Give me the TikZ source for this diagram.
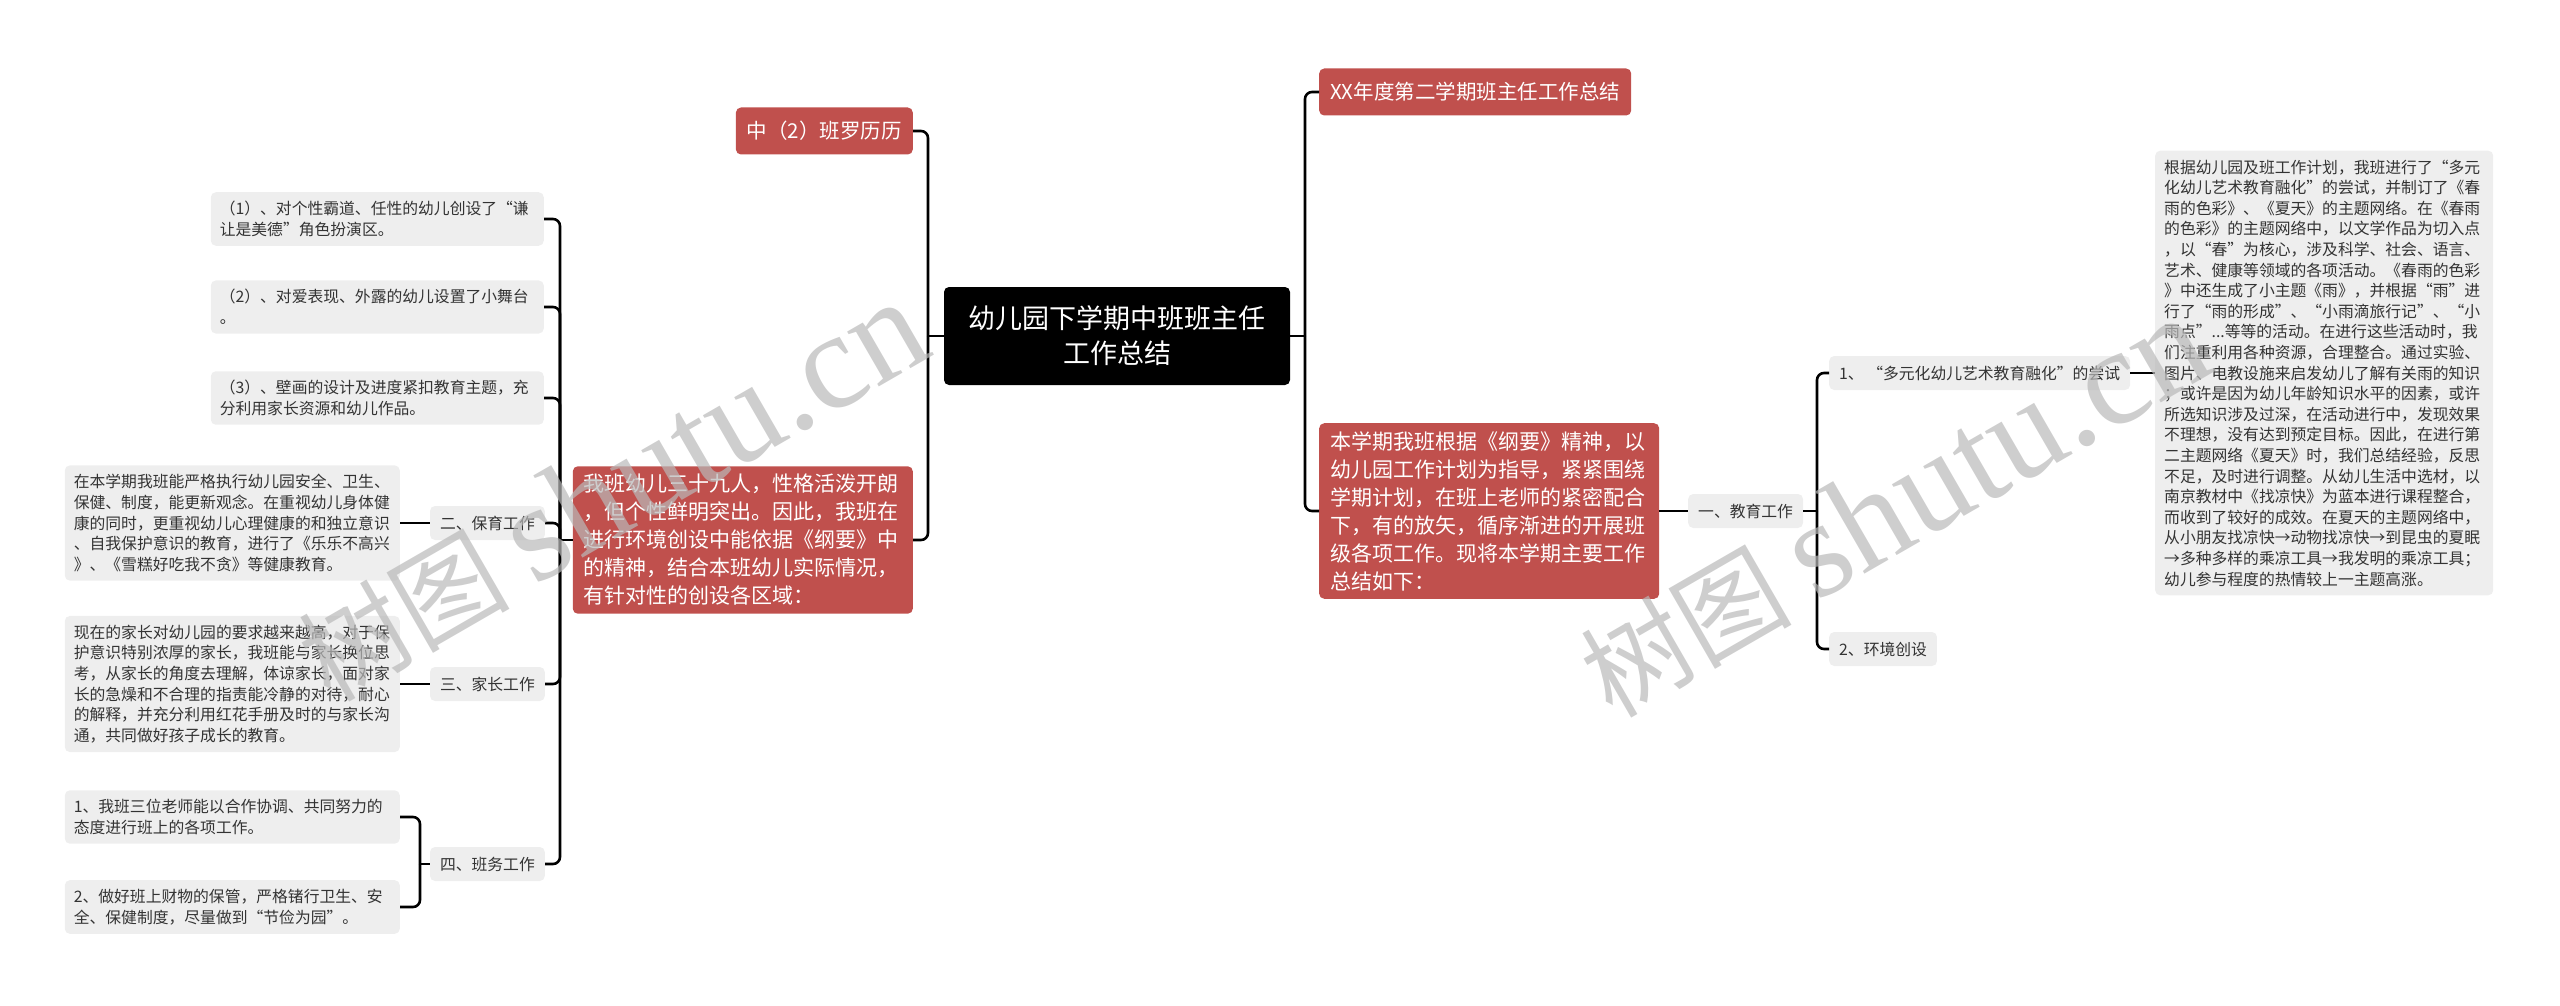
\documentclass[tikz,border=0pt]{standalone}
\usepackage{fontspec}
\setmainfont{Noto Sans CJK SC}
\newfontfamily\wmlat{Liberation Serif}
\newfontfamily\wmcjk{Noto Sans CJK SC}
\definecolor{boxred}{RGB}{192,80,77}
\definecolor{boxgray}{RGB}{238,238,238}
\definecolor{txtgray}{RGB}{51,51,51}
\definecolor{wmgray}{RGB}{185,185,185}
\tikzset{
  conn/.style={line width=2.6pt, draw=black, rounded corners=7pt},
  rootbox/.style={fill=black, text=white, rounded corners=5pt, font=\fontsize{27}{35}\selectfont, align=center, minimum width=346pt, minimum height=98pt, inner sep=0pt},
  redsmall/.style={fill=boxred, text=white, rounded corners=5pt, font=\fontsize{20.5}{28}\selectfont, inner xsep=11pt, inner ysep=0pt, minimum height=47pt},
  redbig/.style={fill=boxred, text=white, rounded corners=5pt, font=\fontsize{21}{28}\selectfont, align=left, inner xsep=11pt, inner ysep=8pt, text width=318pt},
  graylabel/.style={fill=boxgray, text=txtgray, rounded corners=5pt, font=\fontsize{15.8}{20.6}\selectfont, inner xsep=10pt, inner ysep=0pt, minimum height=34pt},
  grayblk/.style={fill=boxgray, text=txtgray, rounded corners=5pt, font=\fontsize{15.8}{20.6}\selectfont, align=left, inner xsep=9pt, inner ysep=9pt},
  wm/.style={text=wmgray, opacity=0.7, rotate=30, inner sep=0pt}
}
\begin{document}
\begin{tikzpicture}[x=1pt, y=-1pt]
\useasboundingbox (0,0) rectangle (2560,1006);
% root
\node[rootbox] (root) at (1117,336) {幼儿园下学期中班班主任\\工作总结};
% left side
\node[redsmall, anchor=east] (zhong) at (913,131) {中（2）班罗历历};
\node[redbig, anchor=east] (wob) at (913,540) {我班幼儿三十九人，性格活泼开朗\\，但个性鲜明突出。因此，我班在\\进行环境创设中能依据《纲要》中\\的精神，结合本班幼儿实际情况，\\有针对性的创设各区域：};
\node[grayblk, anchor=east, text width=315pt] (g1) at (544,219) {（1）、对个性霸道、任性的幼儿创设了“谦\\让是美德”角色扮演区。};
\node[grayblk, anchor=east, text width=315pt] (g2) at (544,307) {（2）、对爱表现、外露的幼儿设置了小舞台\\。};
\node[grayblk, anchor=east, text width=315pt] (g3) at (544,398) {（3）、壁画的设计及进度紧扣教育主题，充\\分利用家长资源和幼儿作品。};
\node[graylabel, anchor=east] (l2) at (545,523) {二、保育工作};
\node[graylabel, anchor=east] (l3) at (545,684) {三、家长工作};
\node[graylabel, anchor=east] (l4) at (545,864) {四、班务工作};
\node[grayblk, anchor=east, text width=317pt] (t2) at (400,523) {在本学期我班能严格执行幼儿园安全、卫生、\\保健、制度，能更新观念。在重视幼儿身体健\\康的同时，更重视幼儿心理健康的和独立意识\\、自我保护意识的教育，进行了《乐乐不高兴\\》、《雪糕好吃我不贪》等健康教育。};
\node[grayblk, anchor=east, text width=317pt] (t3) at (400,684) {现在的家长对幼儿园的要求越来越高，对于保\\护意识特别浓厚的家长，我班能与家长换位思\\考，从家长的角度去理解，体谅家长，面对家\\长的急燥和不合理的指责能冷静的对待，耐心\\的解释，并充分利用红花手册及时的与家长沟\\通，共同做好孩子成长的教育。};
\node[grayblk, anchor=east, text width=317pt] (t41) at (400,817) {1、我班三位老师能以合作协调、共同努力的\\态度进行班上的各项工作。};
\node[grayblk, anchor=east, text width=317pt] (t42) at (400,907) {2、做好班上财物的保管，严格锗行卫生、安\\全、保健制度，尽量做到“节俭为园”。};
% right side
\node[redsmall, anchor=west] (xx) at (1319,92) {XX年度第二学期班主任工作总结};
\node[redbig, anchor=west] (bxq) at (1319,511) {本学期我班根据《纲要》精神，以\\幼儿园工作计划为指导，紧紧围绕\\学期计划，在班上老师的紧密配合\\下，有的放矢，循序渐进的开展班\\级各项工作。现将本学期主要工作\\总结如下：};
\node[graylabel, anchor=west] (l1) at (1688,511) {一、教育工作};
\node[graylabel, anchor=west] (s1) at (1829,373) {1、 “多元化幼儿艺术教育融化”的尝试};
\node[graylabel, anchor=west] (s2) at (1829,649) {2、环境创设};
\node[grayblk, anchor=west, text width=320pt] (big) at (2155,373) {根据幼儿园及班工作计划，我班进行了“多元\\化幼儿艺术教育融化”的尝试，并制订了《春\\雨的色彩》、《夏天》的主题网络。在《春雨\\的色彩》的主题网络中，以文学作品为切入点\\，以“春”为核心，涉及科学、社会、语言、\\艺术、健康等领域的各项活动。《春雨的色彩\\》中还生成了小主题《雨》，并根据“雨”进\\行了“雨的形成”、“小雨滴旅行记”、“小\\雨点”...等等的活动。在进行这些活动时，我\\们注重利用各种资源，合理整合。通过实验、\\图片、电教设施来启发幼儿了解有关雨的知识\\；或许是因为幼儿年龄知识水平的因素，或许\\所选知识涉及过深，在活动进行中，发现效果\\不理想，没有达到预定目标。因此，在进行第\\二主题网络《夏天》时，我们总结经验，反思\\不足，及时进行调整。从幼儿生活中选材，以\\南京教材中《找凉快》为蓝本进行课程整合，\\而收到了较好的成效。在夏天的主题网络中，\\从小朋友找凉快→动物找凉快→到昆虫的夏眠\\→多种多样的乘凉工具→我发明的乘凉工具；\\幼儿参与程度的热情较上一主题高涨。};
% trunks
\coordinate (kL) at (928,0);
\coordinate (kW) at (560,0);
\coordinate (k4) at (420,0);
\coordinate (kR) at (1305,0);
\coordinate (k1) at (1817,0);
% connectors
\draw[conn] (root.west) -- (kL |- root.west);
\foreach \c in {zhong,wob} \draw[conn] (kL |- root.west) |- (\c.east);
\draw[conn] (wob.west) -- (kW |- wob.west);
\foreach \c in {g1,g2,g3,l2,l3,l4} \draw[conn] (kW |- wob.west) |- (\c.east);
\draw[conn] (l2.west) -- (t2.east);
\draw[conn] (l3.west) -- (t3.east);
\draw[conn] (l4.west) -- (k4 |- l4.west);
\foreach \c in {t41,t42} \draw[conn] (k4 |- l4.west) |- (\c.east);
\draw[conn] (root.east) -- (kR |- root.east);
\foreach \c in {xx,bxq} \draw[conn] (kR |- root.east) |- (\c.west);
\draw[conn] (bxq.east) -- (l1.west);
\draw[conn] (l1.east) -- (k1 |- l1.east);
\foreach \c in {s1,s2} \draw[conn] (k1 |- l1.east) |- (\c.west);
\draw[conn] (s1.east) -- (big.west);
% watermarks
\node[wm, anchor=base west] (wm1) at (330,704) {\wmcjk\fontsize{106}{106}\selectfont 树图\ \wmlat\fontsize{138}{138}\selectfont shutu.cn};
\node[wm, anchor=base west] (wm2) at (1612,720) {\wmcjk\fontsize{106}{106}\selectfont 树图\ \wmlat\fontsize{138}{138}\selectfont shutu.cn};
\end{tikzpicture}
\end{document}
